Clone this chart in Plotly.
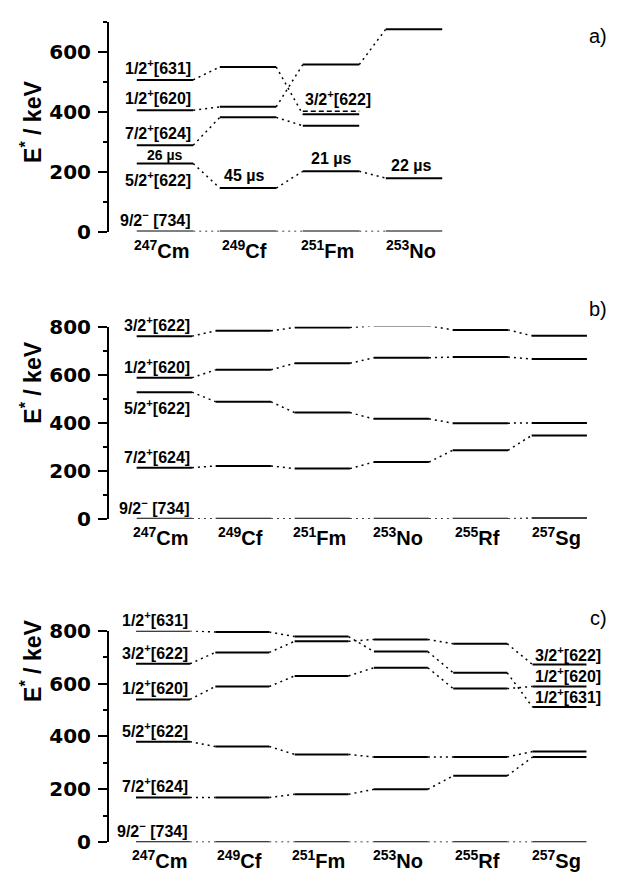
import plotly.graph_objects as go

W, H = 624, 884

# ---------------- data ----------------
mass = ["247", "249", "251", "253", "255", "257"]
element = ["Cm", "Cf", "Fm", "No", "Rf", "Sg"]

# panel a (247Cm .. 253No), energies in keV, None = not shown
a_92_734 = [0, 0, 0, 0]
a_52_622 = [227, 145, 201, 178]
a_72_624 = [288, 381, 353, None]
a_12_620 = [405, 416, 557, 675]
a_12_631 = [506, 549, 391, None]
a_32_622 = [None, None, 401, None]      # dashed level
a_isomer_text = ["26 µs", "45 µs", "21 µs", "22 µs"]

# panel b
b_32_622 = [760, 782, 796, 803, 786, 762]
b_12_620 = [587, 620, 647, 670, 673, 665]
b_52_622 = [527, 487, 442, 416, 398, 399]
b_72_624 = [213, 220, 209, 236, 285, 347]
b_92_734 = [0, 0, 0, 0, 0, 3]

# panel c
c_12_631 = [800, 795, 778, 721, 641, 511]
c_32_622 = [675, 718, 760, 767, 751, 672]
c_12_620 = [540, 589, 629, 660, 581, 589]
c_52_622 = [380, 362, 332, 322, 322, 343]
c_72_624 = [169, 169, 181, 200, 251, 322]
c_92_734 = [0, 0, 0, 0, 0, 0]

# ---------------- helpers ----------------
def py(px):
    return 1 - px / H

def px_(x):
    return x / W

FONT = "Liberation Sans, Arial, sans-serif"
fig = go.Figure()

def add_levels(vals, hw, ax, dash="solid", width=2.0):
    xs, ys = [], []
    for i, v in enumerate(vals):
        if v is None:
            continue
        xs += [i - hw, i + hw, None]
        ys += [v, v, None]
    fig.add_trace(go.Scatter(x=xs, y=ys, mode="lines", xaxis="x" + ax, yaxis="y" + ax,
                             line=dict(color="black", width=width, dash=dash),
                             hoverinfo="skip", showlegend=False))

def add_links(vals, hw, ax):
    xs, ys = [], []
    for i in range(len(vals) - 1):
        if vals[i] is None or vals[i + 1] is None:
            continue
        xs += [i + hw, i + 1 - hw, None]
        ys += [vals[i], vals[i + 1], None]
    fig.add_trace(go.Scatter(x=xs, y=ys, mode="lines", xaxis="x" + ax, yaxis="y" + ax,
                             line=dict(color="black", width=1.5, dash="2px,4px"),
                             hoverinfo="skip", showlegend=False))

ann = []

def label(ax, x, y, text, size=16, xanchor="right", yanchor="bottom", yshift=0, xshift=0, bold=True):
    ann.append(dict(xref="x" + ax, yref="y" + ax, x=x, y=y, text=text, showarrow=False,
                    xanchor=xanchor, yanchor=yanchor, yshift=yshift, xshift=xshift,
                    font=dict(family=FONT, size=size, color="black",
                              weight="bold" if bold else "normal")))

# ---------------- panel a ----------------
hwa = 0.34
for s in [a_92_734, a_52_622, a_72_624, a_12_620, a_12_631]:
    add_levels(s, hwa, "")
    add_links(s, hwa, "")
add_levels(a_32_622, hwa, "", dash="5px,3px", width=1.5)

label("", hwa, a_12_631[0], "1/2<sup>+</sup>[631]", yshift=1)
label("", hwa, a_12_620[0], "1/2<sup>+</sup>[620]", yshift=1)
label("", hwa, a_72_624[0], "7/2<sup>+</sup>[624]", yshift=1)
label("", 0, a_52_622[0], a_isomer_text[0], size=14, xanchor="center", yshift=-1)
label("", hwa, a_52_622[0], "5/2<sup>+</sup>[622]", yanchor="top", yshift=-3)
label("", hwa, a_92_734[0], "9/2<sup>−</sup> [734]", yshift=1)
label("", 1 - 0.05, a_52_622[1], a_isomer_text[1], size=16, xanchor="center", yshift=2)
label("", 2, a_52_622[2], a_isomer_text[2], size=16, xanchor="center", yshift=2)
label("", 3 - 0.04, a_52_622[3], a_isomer_text[3], size=16, xanchor="center", yshift=2)
label("", 2 + 0.09, a_32_622[2], "3/2<sup>+</sup>[622]", size=16, xanchor="center", yshift=1)

# ---------------- panel b ----------------
hwb = 0.35
for s in [b_32_622, b_12_620, b_52_622, b_72_624, b_92_734]:
    add_levels(s, hwb, "2")
    add_links(s, hwb, "2")
label("2", hwb, b_32_622[0], "3/2<sup>+</sup>[622]")
label("2", hwb, b_12_620[0], "1/2<sup>+</sup>[620]")
label("2", hwb, b_52_622[0], "5/2<sup>+</sup>[622]", yanchor="top", yshift=-3)
label("2", hwb, b_72_624[0], "7/2<sup>+</sup>[624]")
label("2", hwb, b_92_734[0], "9/2<sup>−</sup> [734]")

# ---------------- panel c ----------------
hwc = 0.34
for s in [c_12_631, c_32_622, c_12_620, c_52_622, c_72_624, c_92_734]:
    add_levels(s, hwc, "3")
    add_links(s, hwc, "3")
label("3", hwc, c_12_631[0], "1/2<sup>+</sup>[631]")
label("3", hwc, c_32_622[0], "3/2<sup>+</sup>[622]")
label("3", hwc, c_12_620[0], "1/2<sup>+</sup>[620]")
label("3", hwc, c_52_622[0], "5/2<sup>+</sup>[622]")
label("3", hwc, c_72_624[0], "7/2<sup>+</sup>[624]")
label("3", hwc, c_92_734[0], "9/2<sup>−</sup> [734]")
label("3", 5 - hwc, c_32_622[5], "3/2<sup>+</sup>[622]", xanchor="left", yshift=-1)
label("3", 5 - hwc, c_12_620[5], "1/2<sup>+</sup>[620]", xanchor="left", yshift=-1)
label("3", 5 - hwc, c_12_631[5], "1/2<sup>+</sup>[631]", xanchor="left", yshift=-1)

# nucleus labels
for ax, n in [("", 4), ("2", 6), ("3", 6)]:
    for i in range(n):
        ann.append(dict(xref="x" + ax, yref="y" + ax, x=i - 0.04, y=0,
                        text="<sup>%s</sup>%s" % (mass[i], element[i]), showarrow=False,
                        xanchor="center", yanchor="top", yshift=-3,
                        font=dict(family=FONT, size=20, color="black", weight="bold")))

# panel letters and y titles
for txt, ycen in [("a)", 25), ("b)", 305), ("c)", 623)]:
    ann.append(dict(xref="paper", yref="paper", x=px_(598), y=py(ycen), text=txt,
                    showarrow=False, xanchor="center", yanchor="middle",
                    font=dict(family=FONT, size=20, color="black")))
for ycen in [113, 381, 667]:
    ann.append(dict(xref="paper", yref="paper", x=px_(31), y=py(ycen),
                    text="E<sup>*</sup> / keV", textangle=-90, showarrow=False,
                    xanchor="center", yanchor="middle",
                    font=dict(family=FONT, size=23, color="black", weight="bold")))

xdom = [px_(109), px_(620)]

def yax(dom, rng):
    return dict(domain=dom, range=rng, showline=True, linecolor="black", linewidth=2,
                ticks="outside", ticklen=9, tickwidth=2, tickcolor="black",
                dtick=200, tick0=0, showgrid=False, zeroline=False,
                ticklabelstandoff=3,
                minor=dict(dtick=100, ticks="outside", ticklen=4, tickwidth=1.5,
                           tickcolor="black", showgrid=False),
                tickfont=dict(family="DejaVu Sans, sans-serif", size=20, color="black",
                              weight="bold"),
                fixedrange=True)

def xax(rng, anchor):
    return dict(domain=xdom, range=rng, visible=False, anchor=anchor, fixedrange=True)

fig.update_layout(
    width=W, height=H, margin=dict(l=0, r=0, t=0, b=0),
    paper_bgcolor="white", plot_bgcolor="white",
    xaxis=xax([(109 - 165) / 83, (620 - 165) / 83], "y"),
    yaxis=dict(yax([py(225.7), py(10)], [0, 700]), anchor="x"),
    xaxis2=xax([(109 - 164.3) / 79, (620 - 164.3) / 79], "y2"),
    yaxis2=dict(yax([py(521), py(323.3)], [0, 800]), anchor="x2"),
    xaxis3=xax([(109 - 163) / 79.3, (620 - 163) / 79.3], "y3"),
    yaxis3=dict(yax([py(853.3), py(636)], [0, 800]), anchor="x3"),
    annotations=ann,
    showlegend=False,
)

fig.write_html("out.html")
